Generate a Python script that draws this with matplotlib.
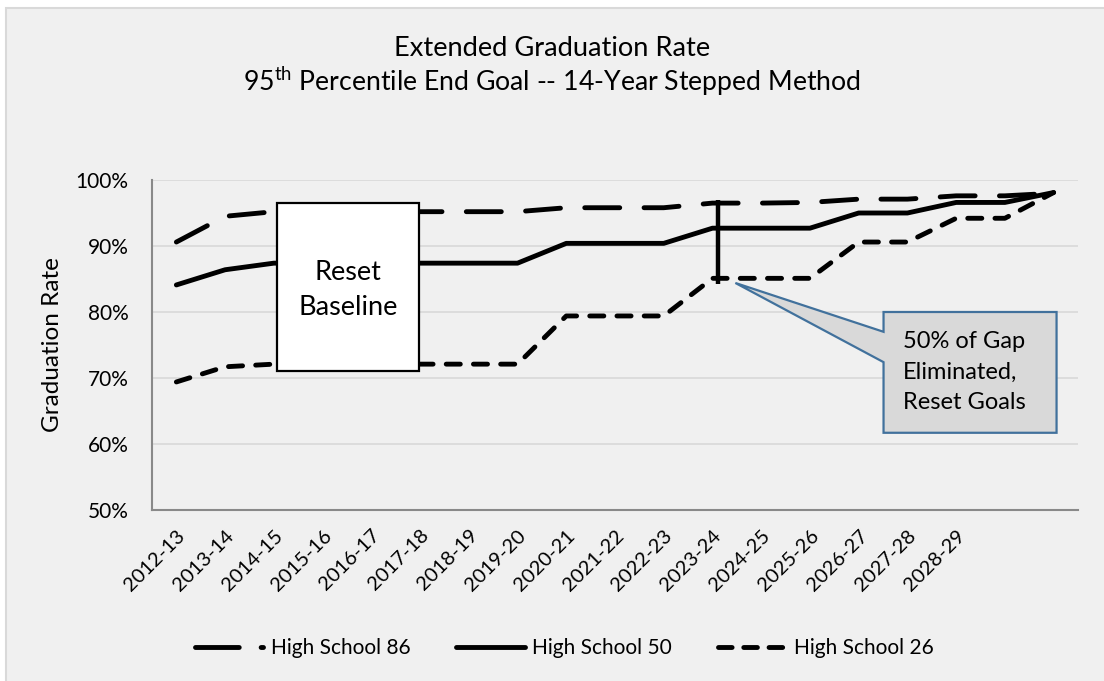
import matplotlib
matplotlib.use("Agg")
import matplotlib.pyplot as plt
from matplotlib.patches import Rectangle, Polygon
from matplotlib.lines import Line2D

FONT = "Lato"
plt.rcParams['font.family'] = [FONT, 'DejaVu Sans']
plt.rcParams['mathtext.fontset'] = 'custom'
plt.rcParams['mathtext.rm'] = FONT
plt.rcParams['mathtext.it'] = FONT

# ---- data ----
years = ["2012-13", "2013-14", "2014-15", "2015-16", "2016-17", "2017-18", "2018-19",
         "2019-20", "2020-21", "2021-22", "2022-23", "2023-24", "2024-25", "2025-26",
         "2026-27", "2027-28", "2028-29", "", ""]
hs86 = [90.6, 94.5, 95.2, 95.2, 95.2, 95.2, 95.2, 95.2, 95.8, 95.8, 95.8,
        96.5, 96.5, 96.6, 97.1, 97.1, 97.6, 97.6, 98.0]
hs50 = [84.1, 86.4, 87.4, 87.4, 87.4, 87.4, 87.4, 87.4, 90.4, 90.4, 90.4,
        92.7, 92.7, 92.7, 95.0, 95.0, 96.6, 96.6, 98.1]
hs26 = [69.4, 71.7, 72.1, 72.1, 72.1, 72.1, 72.1, 72.1, 79.4, 79.4, 79.4,
        85.1, 85.1, 85.1, 90.6, 90.6, 94.2, 94.2, 98.1]
series_names = ["High School 86", "High School 50", "High School 26"]
yticks = [50, 60, 70, 80, 90, 100]

fig = plt.figure(figsize=(11.04, 6.81), dpi=100, facecolor="white")
# chart area background with border
fig.patches.append(Rectangle((6 / 1104, -0.1), 1.2, 1 - 8 / 681 + 0.1, transform=fig.transFigure,
                             facecolor="#f0f0f0", edgecolor="#d9d9d9", linewidth=1.5, zorder=-5))

ax = fig.add_axes([152 / 1104, 1 - 510 / 681, (1078 - 152) / 1104, (510 - 180) / 681])
ax.patch.set_alpha(0)

x = list(range(len(years)))
lw = 3.5
d86 = (7.2, 5.0)
d26 = (2.9, 2.7)
ax.plot(x, hs86, color="black", lw=lw, dashes=d86, dash_capstyle="round", zorder=3)
ax.plot(x, hs50, color="black", lw=lw, solid_capstyle="round", zorder=3)
ax.plot(x, hs26, color="black", lw=lw, dashes=d26, dash_capstyle="round", zorder=3)

ax.set_xlim(-0.5, len(years) - 0.5)
ax.set_ylim(50, 100)
ax.set_yticks(yticks)
ax.set_yticklabels([f"{v}%" for v in yticks], fontsize=15)
ax.set_xticks(x)
ax.set_xticklabels(years, rotation=45, ha="right", va="top", rotation_mode="anchor", fontsize=14.5)
ax.tick_params(axis="both", length=0)
ax.tick_params(axis="x", pad=12)
ax.tick_params(axis="y", pad=17)
ax.grid(axis="y", color="#d9d9d9", lw=1.2, zorder=0)
ax.set_axisbelow(True)
for s in ["top", "right"]:
    ax.spines[s].set_visible(False)
for s in ["left", "bottom"]:
    ax.spines[s].set_color("#898989")
    ax.spines[s].set_linewidth(1.5)
ax.set_ylabel("Graduation Rate", fontsize=17.5, labelpad=9)

# Reset Baseline box
ax.add_patch(Rectangle((2.06, 71.1), 4.98 - 2.06, 96.5 - 71.1, facecolor="white",
                       edgecolor="black", lw=1.6, zorder=5))
ax.text(3.52, 83.3, "Reset\nBaseline", ha="center", va="center", fontsize=19.5,
        linespacing=1.5, zorder=6)

# vertical marker line
ax.plot([11.12, 11.12], [84.2, 97.0], color="black", lw=3.2, solid_capstyle="butt", zorder=4)

# callout
callout = Polygon([(14.51, 80.0), (18.06, 80.0), (18.06, 61.7), (14.51, 61.7),
                   (14.51, 72.4), (11.47, 84.4), (14.51, 77.0)], closed=True,
                  facecolor="#d9d9d9", edgecolor="#41719c", lw=1.6, zorder=5, clip_on=False)
ax.add_patch(callout)
ax.text(14.90, 70.9, "50% of Gap\nEliminated,\nReset Goals", ha="left", va="center",
        fontsize=17, linespacing=1.55, zorder=6)

# title
fig.text(0.5, 1 - 48 / 681, "Extended Graduation Rate", ha="center", va="center", fontsize=19.6)
fig.text(0.5, 1 - 82 / 681, r"95$^{\mathrm{th}}$ Percentile End Goal -- 14-Year Stepped Method",
         ha="center", va="center", fontsize=19.2)

# legend (proxy handles mimic the truncated dash patterns)
h86 = Line2D([], [], color="black", lw=lw, dashes=(9.0, 4.5), dash_capstyle="round")
h50 = Line2D([], [], color="black", lw=lw, solid_capstyle="round")
h26 = Line2D([], [], color="black", lw=lw, dashes=(2.8, 2.4), dash_capstyle="round")
fig.legend(handles=[h86, h50, h26], labels=series_names, loc="center",
           bbox_to_anchor=(0.5 + 12 / 1104, 1 - 648 / 681), ncol=3, frameon=False, fontsize=15,
           handlelength=3.3, handletextpad=0.35, columnspacing=2.2)

fig.savefig("out.png", dpi=100, facecolor="white")
